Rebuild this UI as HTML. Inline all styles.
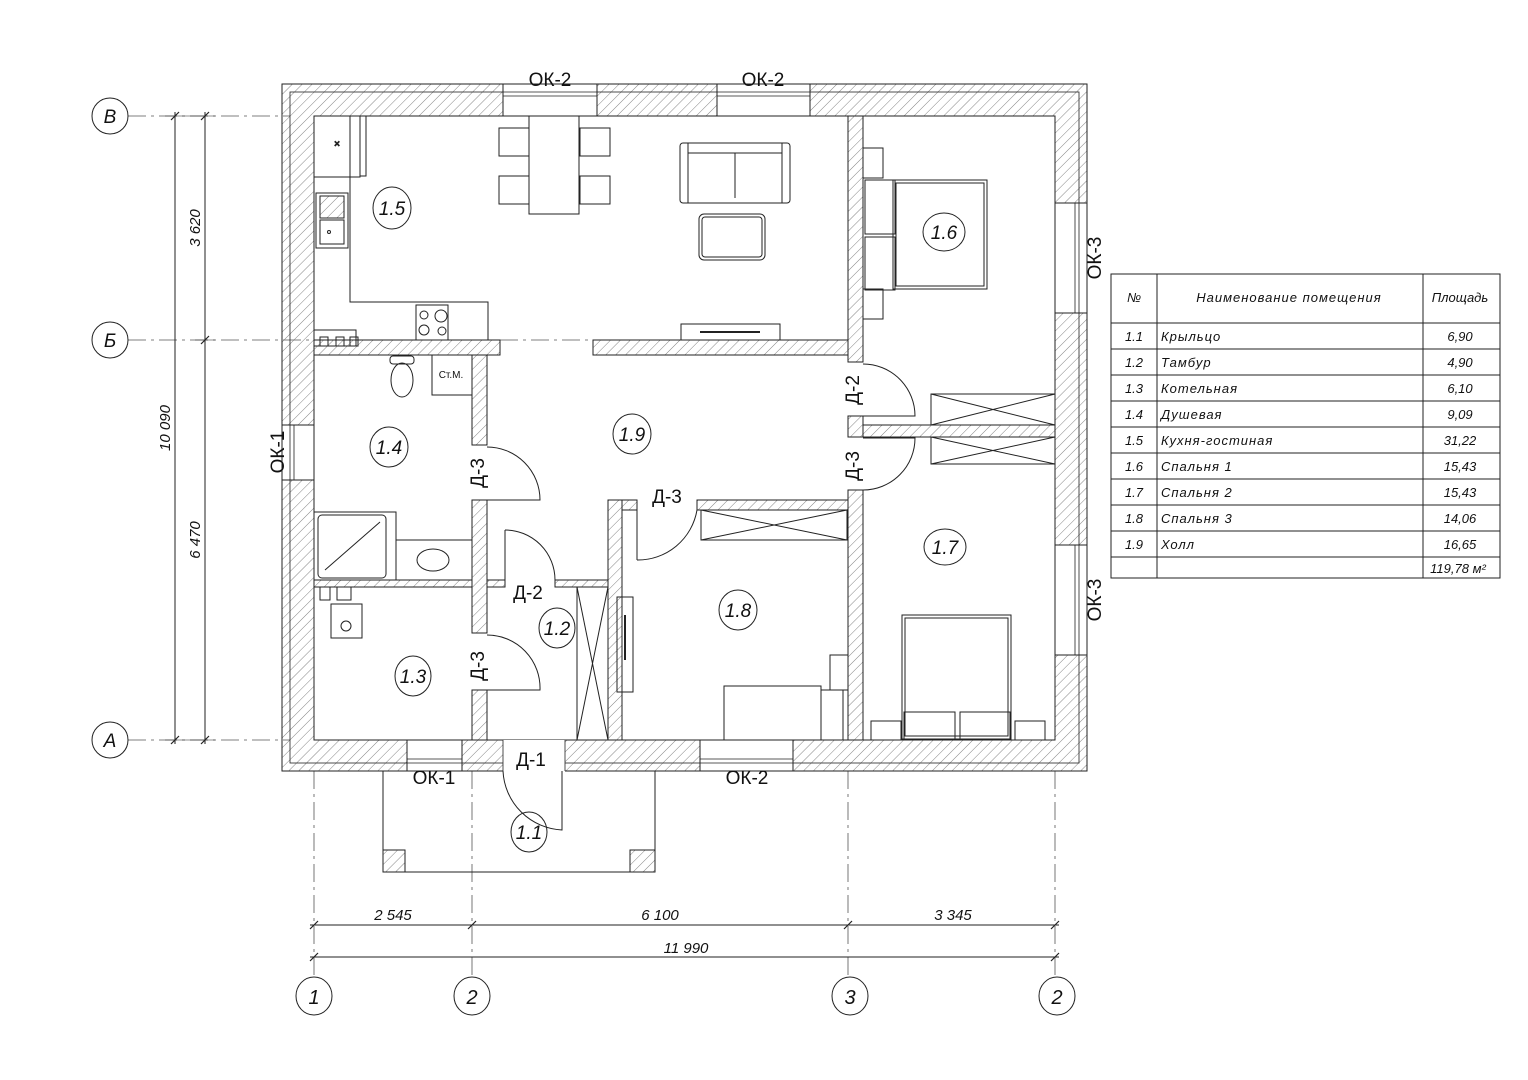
<!DOCTYPE html>
<html><head><meta charset="utf-8"><style>
html,body{margin:0;padding:0;background:#fff}
svg{display:block}
text{font-family:"Liberation Sans","DejaVu Sans",sans-serif;fill:#111}
.it{font-style:italic}
</style></head><body>
<svg width="1528" height="1080" viewBox="0 0 1528 1080" xmlns="http://www.w3.org/2000/svg">
<defs>
<pattern id="h" patternUnits="userSpaceOnUse" width="7" height="7" patternTransform="rotate(45)">
<line x1="0" y1="0" x2="0" y2="7" stroke="#777" stroke-width="0.9"/>
</pattern>
</defs>
<g fill="none" stroke="#222" stroke-width="1">
<!-- axis dash-dot lines -->
<g stroke="#555" stroke-dasharray="18,5,3,5" stroke-width="0.8">
<line x1="128" y1="116" x2="290" y2="116"/>
<line x1="128" y1="340" x2="600" y2="340"/>
<line x1="128" y1="740" x2="290" y2="740"/>
<line x1="314" y1="771" x2="314" y2="978"/>
<line x1="472" y1="771" x2="472" y2="978"/>
<line x1="848" y1="771" x2="848" y2="978"/>
<line x1="1055" y1="771" x2="1055" y2="978"/>
</g>
<!-- dimension lines -->
<line x1="175" y1="112" x2="175" y2="744"/>
<line x1="205" y1="112" x2="205" y2="744"/>
<line x1="165" y1="116" x2="215" y2="116" stroke-width="0.6"/>
<line x1="195" y1="340" x2="215" y2="340" stroke-width="0.6"/>
<line x1="165" y1="740" x2="215" y2="740" stroke-width="0.6"/>
<line x1="310" y1="925" x2="1059" y2="925"/>
<line x1="310" y1="957" x2="1059" y2="957"/>
<g stroke-width="1.2">
<line x1="171" y1="120" x2="179" y2="112"/><line x1="171" y1="744" x2="179" y2="736"/>
<line x1="201" y1="120" x2="209" y2="112"/><line x1="201" y1="344" x2="209" y2="336"/><line x1="201" y1="744" x2="209" y2="736"/>
<line x1="310" y1="929" x2="318" y2="921"/><line x1="468" y1="929" x2="476" y2="921"/><line x1="844" y1="929" x2="852" y2="921"/><line x1="1051" y1="929" x2="1059" y2="921"/>
<line x1="310" y1="961" x2="318" y2="953"/><line x1="1051" y1="961" x2="1059" y2="953"/>
</g>
<!-- axis bubbles -->
<circle cx="110" cy="116" r="18"/><circle cx="110" cy="340" r="18"/><circle cx="110" cy="740" r="18"/>
<ellipse cx="314" cy="996" rx="18" ry="19"/><ellipse cx="472" cy="996" rx="18" ry="19"/><ellipse cx="850" cy="996" rx="18" ry="19"/><ellipse cx="1057" cy="996" rx="18" ry="19"/>

<!-- outer wall -->
<path d="M282,84 H1087 V771 H282 Z M314,116 V740 H1055 V116 Z" fill="url(#h)" fill-rule="evenodd"/>
<rect x="290" y="92" width="789" height="671" stroke-width="0.8"/>
<!-- windows -->
<g fill="#fff">
<rect x="503" y="84" width="94" height="32"/><rect x="717" y="84" width="93" height="32"/>
<rect x="282" y="425" width="32" height="55"/><rect x="407" y="740" width="55" height="31"/>
<rect x="700" y="740" width="93" height="31"/>
<rect x="1055" y="203" width="32" height="110"/><rect x="1055" y="545" width="32" height="110"/>
<rect x="503" y="740" width="62" height="32" stroke="none"/>
</g>
<g stroke-width="0.8">
<line x1="503" y1="92" x2="597" y2="92"/><line x1="503" y1="96" x2="597" y2="96"/>
<line x1="717" y1="92" x2="810" y2="92"/><line x1="717" y1="96" x2="810" y2="96"/>
<line x1="290" y1="425" x2="290" y2="480"/><line x1="294" y1="425" x2="294" y2="480"/>
<line x1="407" y1="763" x2="462" y2="763"/><line x1="407" y1="759" x2="462" y2="759"/>
<line x1="700" y1="763" x2="793" y2="763"/><line x1="700" y1="759" x2="793" y2="759"/>
<line x1="1079" y1="203" x2="1079" y2="313"/><line x1="1075" y1="203" x2="1075" y2="313"/>
<line x1="1079" y1="545" x2="1079" y2="655"/><line x1="1075" y1="545" x2="1075" y2="655"/>
<line x1="503" y1="740" x2="503" y2="771"/><line x1="565" y1="740" x2="565" y2="771"/>
</g>
<!-- interior walls -->
<g fill="url(#h)">
<rect x="314" y="340" width="186" height="15"/>
<rect x="593" y="340" width="255" height="15"/>
<rect x="848" y="116" width="15" height="246"/>
<rect x="848" y="416" width="15" height="21"/>
<rect x="848" y="490" width="15" height="250"/>
<rect x="863" y="425" width="192" height="12"/>
<rect x="472" y="355" width="15" height="90"/>
<rect x="472" y="500" width="15" height="133"/>
<rect x="472" y="690" width="15" height="50"/>
<rect x="314" y="580" width="158" height="7"/>
<rect x="487" y="580" width="18" height="7"/>
<rect x="555" y="580" width="53" height="7"/>
<rect x="608" y="500" width="14" height="240"/>
<rect x="622" y="500" width="15" height="10"/>
<rect x="697" y="500" width="151" height="10"/>
</g>
<!-- doors -->
<path d="M487,447 A53,53 0 0 1 540,500 L487,500"/>
<path d="M487,635 A53,53 0 0 1 540,690 L487,690"/>
<path d="M505,530 A50,50 0 0 1 555,580"/><line x1="505" y1="530" x2="505" y2="580"/>
<path d="M637,560 A60,60 0 0 0 697,510"/><line x1="637" y1="510" x2="637" y2="560"/>
<path d="M863,364 A52,52 0 0 1 915,416 L863,416"/>
<path d="M863,490 A52,52 0 0 0 915,438 L863,438"/>
<path d="M503,771 A62,62 0 0 0 562,830 L562,771"/>
<!-- porch -->
<polyline points="383,771 383,872 655,872 655,771"/>
<rect x="383" y="850" width="22" height="22" fill="url(#h)"/>
<rect x="630" y="850" width="25" height="22" fill="url(#h)"/>
<!-- closet 1.2 -->
<rect x="577" y="587" width="31" height="153"/>
<line x1="577" y1="587" x2="608" y2="740"/><line x1="608" y1="587" x2="577" y2="740"/>
<rect x="617" y="597" width="16" height="95"/><line x1="625" y1="615" x2="625" y2="660" stroke-width="2"/>
<!-- wardrobes -->
<rect x="701" y="510" width="146" height="30"/><line x1="701" y1="510" x2="847" y2="540"/><line x1="701" y1="540" x2="847" y2="510"/>
<rect x="931" y="394" width="124" height="31"/><line x1="931" y1="394" x2="1055" y2="425"/><line x1="931" y1="425" x2="1055" y2="394"/>
<rect x="931" y="437" width="124" height="27"/><line x1="931" y1="437" x2="1055" y2="464"/><line x1="931" y1="464" x2="1055" y2="437"/>
<!-- bed 1.8 -->
<rect x="724" y="686" width="97" height="54"/><rect x="821" y="690" width="22" height="50"/><rect x="830" y="655" width="18" height="35"/>
<!-- bedroom 1.6 -->
<rect x="863" y="148" width="20" height="30"/><rect x="863" y="289" width="20" height="30"/>
<rect x="865" y="180" width="30" height="54"/><rect x="865" y="237" width="30" height="53"/>
<rect x="893" y="180" width="94" height="109"/><rect x="896" y="183" width="88" height="103"/>
<!-- bedroom 1.7 -->
<rect x="902" y="615" width="109" height="124"/><rect x="905" y="618" width="103" height="118"/>
<rect x="904" y="712" width="51" height="27"/><rect x="960" y="712" width="50" height="27"/>
<rect x="871" y="721" width="30" height="19"/><rect x="1015" y="721" width="30" height="19"/>
<!-- kitchen -->
<polyline points="350,116 350,302 488,302 488,340"/>
<rect x="314" y="116" width="46" height="61"/><rect x="360" y="116" width="6" height="60"/>
<text x="337" y="147" font-size="10" text-anchor="middle">×</text>
<rect x="316" y="193" width="32" height="55"/><rect x="320" y="196" width="24" height="22" fill="url(#h)"/><rect x="320" y="220" width="24" height="24"/><circle cx="329" cy="232" r="1.5"/>
<rect x="416" y="305" width="32" height="35"/>
<circle cx="424" cy="315" r="4"/><circle cx="441" cy="316" r="6"/><circle cx="424" cy="330" r="5"/><circle cx="442" cy="331" r="4"/>
<rect x="314" y="330" width="42" height="16"/><rect x="320" y="337" width="8" height="9"/><rect x="336" y="337" width="8" height="9"/><rect x="350" y="337" width="8" height="9"/>
<!-- dining -->
<rect x="529" y="116" width="50" height="98"/>
<rect x="499" y="128" width="30" height="28"/><rect x="499" y="176" width="30" height="28"/>
<rect x="580" y="128" width="30" height="28"/><rect x="580" y="176" width="30" height="28"/>
<!-- sofa -->
<rect x="680" y="143" width="110" height="60" rx="3"/><rect x="688" y="143" width="94" height="60"/>
<line x1="688" y1="153" x2="782" y2="153"/><line x1="735" y1="153" x2="735" y2="198"/>
<rect x="699" y="214" width="66" height="46" rx="5"/><rect x="702" y="217" width="60" height="40" rx="3"/>
<rect x="681" y="324" width="99" height="16"/><line x1="700" y1="332" x2="760" y2="332" stroke-width="2"/>
<!-- bathroom -->
<rect x="432" y="355" width="40" height="40"/>
<rect x="390" y="356" width="24" height="8" rx="3"/><ellipse cx="402" cy="380" rx="11" ry="17"/>
<rect x="314" y="512" width="82" height="68"/><rect x="318" y="515" width="68" height="63" rx="4"/><line x1="325" y1="570" x2="380" y2="522"/>
<rect x="396" y="540" width="76" height="40"/><ellipse cx="433" cy="560" rx="16" ry="11"/>
<!-- boiler room -->
<rect x="320" y="587" width="10" height="13"/><rect x="337" y="587" width="14" height="13"/>
<rect x="331" y="604" width="31" height="34"/><circle cx="346" cy="626" r="5"/>
<!-- room label circles -->
<ellipse cx="392" cy="208" rx="19" ry="21"/>
<ellipse cx="944" cy="232" rx="21" ry="19"/>
<ellipse cx="389" cy="447" rx="19" ry="20"/>
<ellipse cx="632" cy="434" rx="19" ry="20"/>
<ellipse cx="557" cy="628" rx="18" ry="20"/>
<ellipse cx="738" cy="610" rx="19" ry="20"/>
<ellipse cx="945" cy="547" rx="21" ry="18"/>
<ellipse cx="413" cy="676" rx="18" ry="20"/>
<ellipse cx="529" cy="832" rx="18" ry="20"/>
<!-- table -->
<rect x="1111" y="274" width="389" height="304"/>
<line x1="1157" y1="274" x2="1157" y2="578"/><line x1="1423" y1="274" x2="1423" y2="578"/>
<line x1="1111" y1="323" x2="1500" y2="323"/><line x1="1111" y1="349" x2="1500" y2="349"/><line x1="1111" y1="375" x2="1500" y2="375"/><line x1="1111" y1="401" x2="1500" y2="401"/><line x1="1111" y1="427" x2="1500" y2="427"/><line x1="1111" y1="453" x2="1500" y2="453"/><line x1="1111" y1="479" x2="1500" y2="479"/><line x1="1111" y1="505" x2="1500" y2="505"/><line x1="1111" y1="531" x2="1500" y2="531"/><line x1="1111" y1="557" x2="1500" y2="557"/>
</g>

<!-- text -->
<g font-size="19" text-anchor="middle">
<text x="550" y="86">ОК-2</text><text x="763" y="86">ОК-2</text>
<text x="434" y="784">ОК-1</text><text x="747" y="784">ОК-2</text>
<text x="531" y="766">Д-1</text>
<text x="528" y="599">Д-2</text>
<text x="667" y="503">Д-3</text>
<text transform="translate(284,452) rotate(-90)">ОК-1</text>
<text transform="translate(1101,258) rotate(-90)">ОК-3</text>
<text transform="translate(1101,600) rotate(-90)">ОК-3</text>
<text transform="translate(484,473) rotate(-90)">Д-3</text>
<text transform="translate(484,666) rotate(-90)">Д-3</text>
<text transform="translate(859,390) rotate(-90)">Д-2</text>
<text transform="translate(859,466) rotate(-90)">Д-3</text>
<text x="110" y="123" class="it">В</text><text x="110" y="347" class="it">Б</text><text x="110" y="747" class="it">А</text>
</g>
<g font-size="19" text-anchor="middle" class="it">
<text x="392" y="215">1.5</text><text x="944" y="239">1.6</text><text x="389" y="454">1.4</text>
<text x="632" y="441">1.9</text><text x="557" y="635">1.2</text><text x="738" y="617">1.8</text>
<text x="945" y="554">1.7</text><text x="413" y="683">1.3</text><text x="529" y="839">1.1</text>
<text x="314" y="1004" font-size="20">1</text><text x="472" y="1004" font-size="20">2</text><text x="850" y="1004" font-size="20">3</text><text x="1057" y="1004" font-size="20">2</text>
</g>
<g font-size="15" text-anchor="middle" class="it">
<text x="393" y="920">2 545</text><text x="660" y="920">6 100</text><text x="953" y="920">3 345</text><text x="686" y="953">11 990</text>
<text transform="translate(170,428) rotate(-90)">10 090</text>
<text transform="translate(200,228) rotate(-90)">3 620</text>
<text transform="translate(200,540) rotate(-90)">6 470</text>
</g>
<text x="451" y="378" font-size="10" text-anchor="middle">Ст.М.</text>
<g font-size="13" class="it">
<text x="1134" y="302" text-anchor="middle">№</text>
<text x="1289" y="302" text-anchor="middle" letter-spacing="1">Наименование помещения</text>
<text x="1460" y="302" text-anchor="middle">Площадь</text>
<g text-anchor="middle">
<text x="1134" y="341">1.1</text><text x="1134" y="367">1.2</text><text x="1134" y="393">1.3</text><text x="1134" y="419">1.4</text><text x="1134" y="445">1.5</text><text x="1134" y="471">1.6</text><text x="1134" y="497">1.7</text><text x="1134" y="523">1.8</text><text x="1134" y="549">1.9</text>
<text x="1460" y="341">6,90</text><text x="1460" y="367">4,90</text><text x="1460" y="393">6,10</text><text x="1460" y="419">9,09</text><text x="1460" y="445">31,22</text><text x="1460" y="471">15,43</text><text x="1460" y="497">15,43</text><text x="1460" y="523">14,06</text><text x="1460" y="549">16,65</text>
<text x="1458" y="573">119,78 м²</text>
</g>
<g letter-spacing="1">
<text x="1161" y="341">Крыльцо</text><text x="1161" y="367">Тамбур</text><text x="1161" y="393">Котельная</text><text x="1161" y="419">Душевая</text><text x="1161" y="445">Кухня-гостиная</text><text x="1161" y="471">Спальня 1</text><text x="1161" y="497">Спальня 2</text><text x="1161" y="523">Спальня 3</text><text x="1161" y="549">Холл</text>
</g>
</g>
</svg>
</body></html>
